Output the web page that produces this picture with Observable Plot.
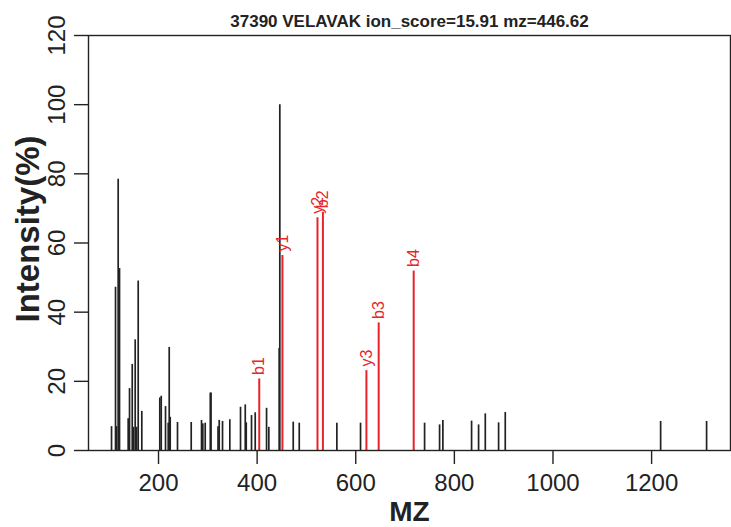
<!DOCTYPE html>
<html>
<head>
<meta charset="utf-8">
<script src="https://cdn.jsdelivr.net/npm/d3@7"></script>
<script src="https://cdn.jsdelivr.net/npm/@observablehq/plot@0.6"></script>
<style>
  html, body { margin: 0; padding: 0; background: #ffffff; }
</style>
</head>
<body>
<div id="chart"></div>
<script>
// Unmatched (black) peaks
const peakMz = [104.7, 112.8, 114.8, 118.2, 120.9, 138.5, 141.2, 146.7, 149.3, 152.7, 155.4, 158.8, 166.1,
  202.6, 205.5, 214.2, 219.7, 221.7, 223.7, 238.5, 266.3, 287.2, 289.9, 294.7, 305.0, 306.5, 320.7, 323.1,
  329.8, 344.6, 366.3, 375.9, 377.9, 388.6, 396.1, 419.1, 423.7, 444.7, 446.0, 473.2, 485.4, 561.7, 609.7,
  739.6, 770.0, 776.7, 834.9, 849.1, 862.7, 889.7, 903.2, 1218.3, 1311.5];
const peakIntensity = [6.9, 47.2, 6.9, 78.4, 52.6, 9.2, 17.9, 24.9, 6.7, 32.0, 6.7, 49.0, 11.3,
  15.2, 15.7, 12.7, 7.9, 29.8, 9.6, 8.1, 8.1, 8.7, 7.7, 7.9, 16.6, 16.6, 6.9, 8.7,
  8.4, 8.9, 12.5, 13.2, 8.0, 10.1, 10.9, 12.2, 6.7, 29.5, 100.0, 8.2, 7.9, 7.9, 7.9,
  7.9, 7.4, 8.7, 8.5, 7.4, 10.6, 8.0, 11.0, 8.4, 8.4];

// Matched fragment ions (red)
const ionLabels = ["b1", "y1", "y2", "b2", "y3", "b3", "b4"];
const ionMz = [404.3, 451.3, 522.4, 533.4, 621.6, 646.5, 717.5];
const ionIntensity = [20.7, 56.4, 67.3, 68.9, 23.1, 36.9, 51.9];

// Axis ticks and texts
const xTicks = [200, 400, 600, 800, 1000, 1200];
const yTicks = [0, 20, 40, 60, 80, 100, 120];
const titleText = "37390 VELAVAK ion_score=15.91 mz=446.62";
const xLabel = "MZ";
const yLabel = "Intensity(%)";

const peaks = peakMz.map((mz, i) => ({mz, intensity: peakIntensity[i]}));
const ions = ionMz.map((mz, i) => ({mz, intensity: ionIntensity[i], label: ionLabels[i]}));

const RED = "#e8242a";
const INK = "#222222";

const chart = Plot.plot({
  width: 731,
  height: 527,
  marginLeft: 88,
  marginRight: 1,
  marginTop: 35,
  marginBottom: 77,
  x: {domain: [58, 1360]},
  y: {domain: [0, 120]},
  style: {fontFamily: "'Liberation Sans', Arial, Helvetica, sans-serif", background: "#ffffff", color: INK},
  marks: [
    Plot.ruleX(peaks, {x: "mz", y1: 0, y2: "intensity", stroke: INK, strokeWidth: 1.7}),
    Plot.ruleX(ions, {x: "mz", y1: 0, y2: "intensity", stroke: RED, strokeWidth: 2}),
    Plot.text(ions, {x: "mz", y: "intensity", text: "label", rotate: -90, textAnchor: "start",
      lineAnchor: "middle", dy: -4, fill: RED, fontSize: 16}),
    Plot.frame({stroke: INK, strokeWidth: 1.4}),
    Plot.axisX({ticks: xTicks, tickSize: 14, tickPadding: 9, fontSize: 24, label: null,
      tickFormat: d => String(d), stroke: INK, strokeWidth: 1.4}),
    Plot.axisY({ticks: yTicks, tickSize: 14, tickFormat: () => "", label: null, stroke: INK, strokeWidth: 1.4}),
    Plot.text(yTicks, {y: d => d, text: d => String(d), frameAnchor: "left", dx: -31, rotate: -90,
      textAnchor: "middle", lineAnchor: "middle", fontSize: 24, fill: INK}),
    Plot.text([titleText], {frameAnchor: "top", dy: -14, text: d => d, fontWeight: "bold", fontSize: 17,
      textAnchor: "middle", lineAnchor: "middle", fill: INK}),
    Plot.text([xLabel], {frameAnchor: "bottom", dy: 62, text: d => d, fontWeight: "bold", fontSize: 28,
      textAnchor: "middle", lineAnchor: "middle", fill: INK}),
    Plot.text([yLabel], {frameAnchor: "left", dx: -60, dy: -14, text: d => d, rotate: -90, fontWeight: "bold",
      fontSize: 33, textAnchor: "middle", lineAnchor: "middle", fill: INK})
  ]
});
document.getElementById("chart").appendChild(chart);
</script>
</body>
</html>
